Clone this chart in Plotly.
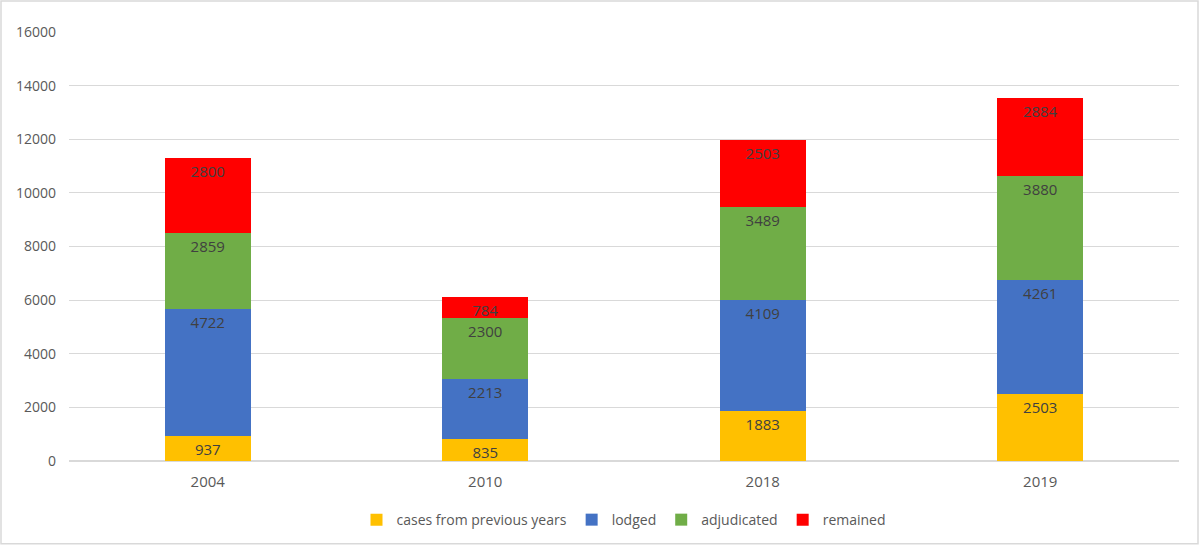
import plotly.graph_objects as go

years = ['2004', '2010', '2018', '2019']
previous = [937, 835, 1883, 2503]
lodged = [4722, 2213, 4109, 4261]
adjudicated = [2859, 2300, 3489, 3880]
remained = [2800, 784, 2503, 2884]

series = [
    ('cases from previous years', previous, '#FFC000'),
    ('lodged', lodged, '#4472C4'),
    ('adjudicated', adjudicated, '#70AD47'),
    ('remained', remained, '#FF0000'),
]

fig = go.Figure()
for name, vals, color in series:
    fig.add_trace(go.Bar(
        x=years, y=vals, name=name,
        marker=dict(color=color, line=dict(width=0)),
        text=vals, textposition='inside', insidetextanchor='end',
        textfont=dict(color='#404040', size=15),
        textangle=0, cliponaxis=False,
    ))

fig.update_layout(
    barmode='stack',
    bargap=0.69,
    width=1200, height=547,
    paper_bgcolor='white', plot_bgcolor='white',
    font=dict(family='Open Sans, Liberation Sans, sans-serif', color='#595959', size=14),
    margin=dict(l=69, r=21, t=32, b=85),
    uniformtext=dict(mode='show', minsize=15),
    legend=dict(orientation='h', x=0.5, xanchor='center', y=-0.135, yanchor='middle',
                font=dict(size=14), traceorder='normal', itemwidth=30),
    xaxis=dict(showgrid=False, showline=False, ticks='', tickfont=dict(size=15),
               ticklabelstandoff=10),
    yaxis=dict(range=[0, 16000], dtick=2000, tickformat='d', gridcolor='#D9D9D9', gridwidth=1,
               zeroline=True, zerolinecolor='#D9D9D9', showline=False,
               tickfont=dict(size=14), ticklabelstandoff=12),
    shapes=[dict(type='rect', xref='paper', yref='paper',
                 x0=-68 / 1110, x1=1 + 19 / 1110, y0=-83 / 430, y1=1 + 31 / 430,
                 line=dict(color='#D9D9D9', width=1.5))],
)

fig.write_html('out.html', config={'displayModeBar': False},
               post_script="document.body.style.margin='0';")
